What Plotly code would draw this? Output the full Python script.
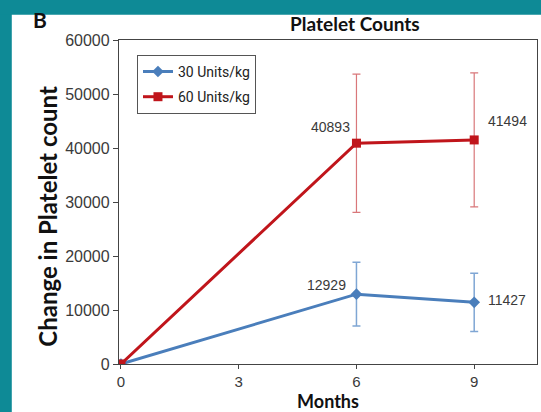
import plotly.graph_objects as go

# Months after treatment start
months = [0, 6, 9]

# Mean change in platelet count and error (SD) per dose group
dose30_change = [0, 12929, 11427]
dose30_err = [None, 5900, 5400]
dose60_change = [0, 40893, 41494]
dose60_err = [None, 12800, 12400]

series_names = ["30 Units/kg", "60 Units/kg"]
x_ticks = [0, 3, 6, 9]
y_ticks = [0, 10000, 20000, 30000, 40000, 50000, 60000]

BLUE = "#4a7ebb"
BLUE_ERR = "#7fa6d4"
RED = "#c0151b"
RED_ERR = "#d9777a"
TEXT = "#3a3a3a"
AXIS = "#444444"
TEAL = "#0e8a96"

fig = go.Figure()

fig.add_trace(go.Scatter(
    x=months, y=dose30_change, name=series_names[0], mode="lines+markers",
    legendgroup="d30",
    line=dict(color=BLUE, width=3),
    marker=dict(symbol="diamond", size=9, color=BLUE),
    error_y=dict(type="data", array=dose30_err, visible=True,
                 color=BLUE_ERR, thickness=1.5, width=4),
))
fig.add_trace(go.Scatter(
    x=months, y=dose60_change, name=series_names[1], mode="lines+markers",
    legendgroup="d60",
    line=dict(color=RED, width=3),
    marker=dict(symbol="square", size=9, color=RED),
    error_y=dict(type="data", array=dose60_err, visible=True,
                 color=RED_ERR, thickness=1.2, width=4),
))

# Value labels at 6 and 9 months
label_font = dict(family="Liberation Sans, Arial, sans-serif", size=14, color=TEXT)
annotations = []
for xv, yv in zip(months[1:], dose60_change[1:]):
    left = xv == 6
    annotations.append(dict(
        x=xv, y=yv, text=str(yv), showarrow=False, font=label_font,
        xanchor="right" if left else "left", yanchor="bottom",
        xshift=-4 if left else 12, yshift=6 if left else 9,
    ))
for xv, yv in zip(months[1:], dose30_change[1:]):
    left = xv == 6
    annotations.append(dict(
        x=xv, y=yv, text=str(yv), showarrow=False, font=label_font,
        xanchor="right" if left else "left",
        yanchor="bottom" if left else "middle",
        xshift=-8 if left else 12, yshift=-1 if left else 2,
    ))

# Panel letter
annotations.append(dict(
    xref="paper", yref="paper", x=-0.19, y=1.02, text="<b>B</b>",
    showarrow=False, xanchor="center", yanchor="bottom",
    font=dict(family="Lato, Arial, sans-serif", size=21, color="#111111"),
))

# Y-axis title, set slightly below the plot's vertical centre
annotations.append(dict(
    xref="paper", yref="paper", x=-0.172, y=0.455,
    text="<b>Change in Platelet count</b>", textangle=-90,
    showarrow=False, xanchor="center", yanchor="middle",
    font=dict(family="Lato, Open Sans, sans-serif", size=24, color="#111111"),
))

# Teal frame along the left and top edges of the figure
frame = [
    dict(type="rect", xref="paper", yref="paper",
         x0=-0.3, x1=-0.2565, y0=-0.2, y1=1.2,
         fillcolor=TEAL, line=dict(width=0), layer="above"),
    dict(type="rect", xref="paper", yref="paper",
         x0=-0.3, x1=1.05, y0=1.078, y1=1.2,
         fillcolor=TEAL, line=dict(width=0), layer="above"),
]

fig.update_layout(
    width=541, height=412,
    margin=dict(l=119, r=4, t=40, b=48),
    paper_bgcolor="white",
    plot_bgcolor="white",
    title=dict(
        text="<b>Platelet Counts</b>", x=0.656, xanchor="center",
        y=0.94, yanchor="middle",
        font=dict(family="Lato, Open Sans, sans-serif", size=19, color="#111111"),
    ),
    shapes=frame,
    showlegend=True,
    legend=dict(
        x=0.043, y=0.954, xanchor="left", yanchor="top",
        bgcolor="white", bordercolor="#555555", borderwidth=1,
        font=dict(family="Liberation Sans Narrow, Arial Narrow, Roboto, sans-serif",
                  size=14, color="#222222"),
        itemwidth=30, tracegroupgap=4, entrywidth=86,
    ),
    annotations=annotations,
    xaxis=dict(
        range=[-0.05, 10.6], tickvals=x_ticks, ticktext=[str(t) for t in x_ticks],
        showline=True, linecolor=AXIS, linewidth=1.3, mirror=True,
        ticks="outside", ticklen=4, tickcolor=AXIS,
        showgrid=False, zeroline=False,
        tickfont=dict(family="Liberation Sans, Arial, sans-serif", size=15, color=TEXT),
        title=dict(text="<b>Months</b>", standoff=0,
                   font=dict(family="Lato, Open Sans, sans-serif", size=18, color="#111111")),
    ),
    yaxis=dict(
        range=[0, 60000], tickvals=y_ticks, ticktext=[str(t) for t in y_ticks],
        showline=True, linecolor=AXIS, linewidth=1.3, mirror=True,
        ticks="outside", ticklen=5, tickcolor=AXIS,
        showgrid=False, zeroline=False,
        tickfont=dict(family="Liberation Sans, Arial, sans-serif", size=16, color=TEXT),
    ),
)

fig.write_html("out.html")
